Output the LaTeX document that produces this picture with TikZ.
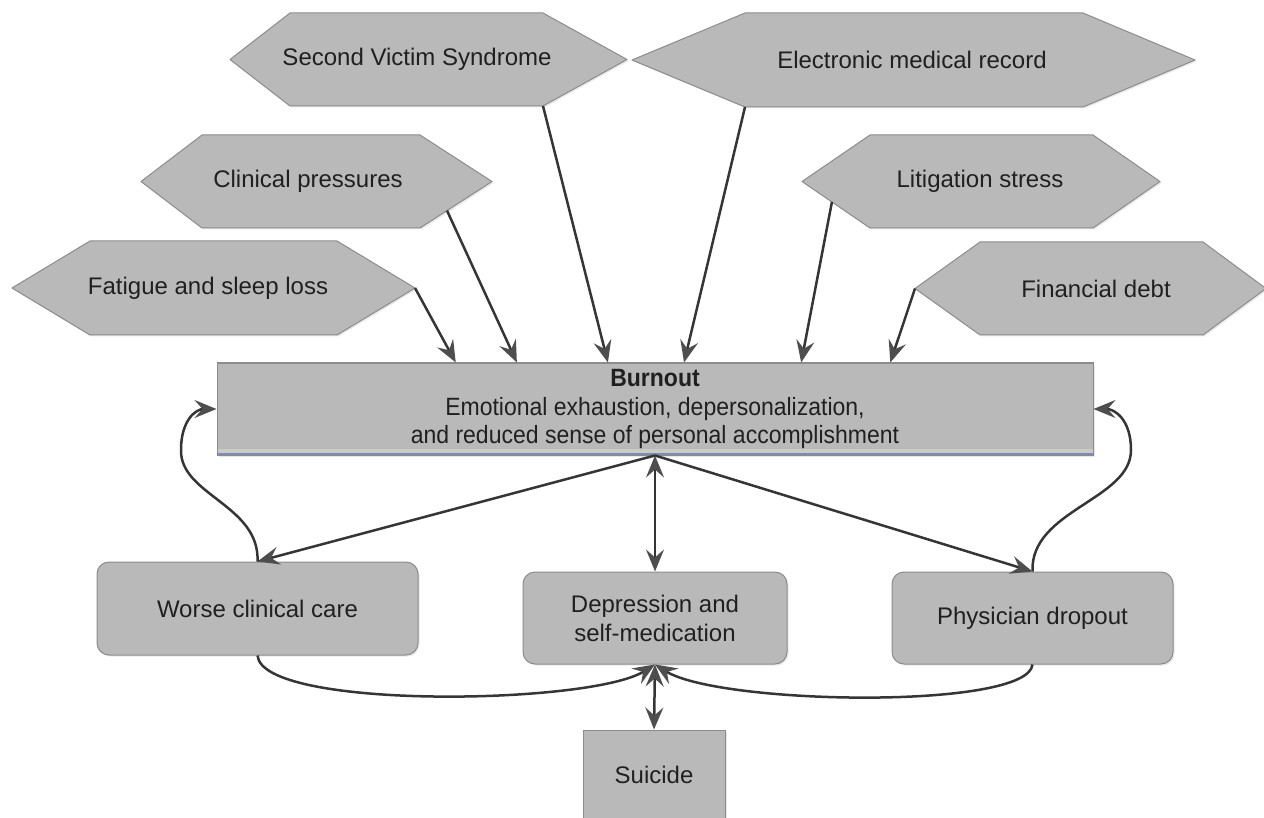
\documentclass[tikz,border=0pt]{standalone}
\usepackage{fontspec}
\setmainfont{Liberation Sans}
\newfontfamily\narrowfont[FakeStretch=0.92]{Liberation Sans}
\usetikzlibrary{arrows.meta,shadows,calc}
\definecolor{boxfill}{HTML}{B9B9B9}
\definecolor{boxdraw}{HTML}{8C8C8C}
\definecolor{arr}{HTML}{353535}
\definecolor{arrhead}{HTML}{4E4E4E}
\definecolor{txt}{HTML}{202020}
\definecolor{bluish}{HTML}{7F8AB5}
\definecolor{strip}{HTML}{C8CCC4}
\tikzset{
  shd/.style={drop shadow={opacity=0.18, shadow xshift=1.5pt, shadow yshift=-1.5pt}},
  hexshape/.style={fill=boxfill, draw=boxdraw, line width=1pt, line join=round, shd},
  lbl/.style={text=txt, font=\fontsize{24}{28}\selectfont, inner sep=0pt},
  rbox/.style={fill=boxfill, draw=boxdraw, line width=1pt, rounded corners=12pt, text=txt,
    font=\fontsize{24}{29}\selectfont, align=center, inner sep=0pt, shd},
  sbox/.style={fill=boxfill, draw=boxdraw, line width=1pt, text=txt,
    font=\fontsize{24}{29}\selectfont, align=center, inner sep=0pt, shd},
  bbox/.style={fill=boxfill, draw=boxdraw, line width=1pt, text=txt,
    font=\narrowfont\fontsize{25}{28.5}\selectfont, align=center, inner sep=0pt, shd},
  tipst/.tip={Stealth[length=22pt,width=18pt,inset=8pt,color=arrhead]},
  conn/.style={draw=arr, line width=2.5pt, -tipst},
  dconn/.style={draw=arr, line width=2.5pt, tipst-tipst},
}
\newcommand\hexn[9]{%
  \coordinate (#1-w) at (#2,{(#6+#7)/2});
  \coordinate (#1-nw) at (#3,#6);
  \coordinate (#1-ne) at (#4,#6);
  \coordinate (#1-e) at (#5,{(#6+#7)/2});
  \coordinate (#1-se) at (#4,#7);
  \coordinate (#1-sw) at (#3,#7);
  \draw[hexshape] (#1-w) -- (#1-nw) -- (#1-ne) -- (#1-e) -- (#1-se) -- (#1-sw) -- cycle;
  \node[lbl] (#1) at (#8,{(#6+#7)/2}) {#9};
}
\begin{document}
\begin{tikzpicture}[x=1pt,y=-1pt]
\useasboundingbox (0,0) rectangle (1264,818);
\clip (0,0) rectangle (1264,818);

% hexagons
\hexn{svs}{230}{290}{543}{627}{13}{106}{417}{Second Victim Syndrome}
\hexn{emr}{632}{745}{1083}{1195}{13}{107}{912}{Electronic medical record}
\hexn{clin}{141}{202}{420}{492}{135}{228}{308}{Clinical pressures}
\hexn{lit}{802}{870}{1093}{1160}{135}{228}{980}{Litigation stress}
\hexn{fat}{12}{90}{337}{415}{241}{335}{208}{Fatigue and sleep loss}
\hexn{fin}{915}{980}{1203}{1266}{242}{335}{1096}{Financial debt}

% burnout
\node[bbox, minimum width=876pt, minimum height=92pt] (burn) at (655,409)
  {\textbf{Burnout}\\Emotional exhaustion, depersonalization,\\and reduced sense of personal accomplishment};
\fill[strip] ([xshift=1pt,yshift=1pt]burn.south west) rectangle ([xshift=-1pt,yshift=7pt]burn.south east);
\draw[bluish, line width=2.5pt] ([yshift=1.5pt]burn.south west) -- ([yshift=1.5pt]burn.south east);

% bottom boxes
\node[rbox, minimum width=321pt, minimum height=93pt] (worse) at (257.5,608.5) {Worse clinical care};
\node[rbox, minimum width=264pt, minimum height=92pt] (depr) at (655,618) {Depression and\\self-medication};
\node[rbox, minimum width=281pt, minimum height=92pt] (phys) at (1032.5,618) {Physician dropout};
\node[sbox, minimum width=142pt, minimum height=90pt] (sui) at (654,775) {Suicide};

% arrows into burnout
\draw[conn] (fat-e) -- ($(burn.north west)!0.2728!(burn.north east)$);
\draw[conn] ($(clin-e)!0.625!(clin-se)$) -- ($(burn.north west)!0.3425!(burn.north east)$);
\draw[conn] (svs-se) -- ($(burn.north west)!0.4463!(burn.north east)$);
\draw[conn] (emr-sw) -- ($(burn.north west)!0.5331!(burn.north east)$);
\draw[conn] ($(lit-w)!0.44!(lit-sw)$) -- ($(burn.north west)!0.6667!(burn.north east)$);
\draw[conn] (fin-w) -- ($(burn.north west)!0.7683!(burn.north east)$);

% burnout to outcomes
\draw[conn] (burn.south) -- (worse.north);
\draw[conn] (burn.south) -- (phys.north);
\draw[dconn] (burn.south) -- (depr.north);

% feedback loops
\draw[conn] (worse.north) .. controls (260,505) and (180,495) .. (181,450)
  .. controls (181,420) and (196,409) .. (burn.west);
\draw[conn] (phys.north) .. controls (1030,510) and (1131,500) .. (1131,450)
  .. controls (1131,420) and (1115,409) .. (burn.east);
\draw[conn] (worse.south) .. controls (262,710) and (590,705) .. (depr.south);
\draw[conn] (phys.south) .. controls (1028,710) and (720,705) .. (depr.south);
\draw[dconn] (depr.south) -- (sui.north);
\end{tikzpicture}
\end{document}
